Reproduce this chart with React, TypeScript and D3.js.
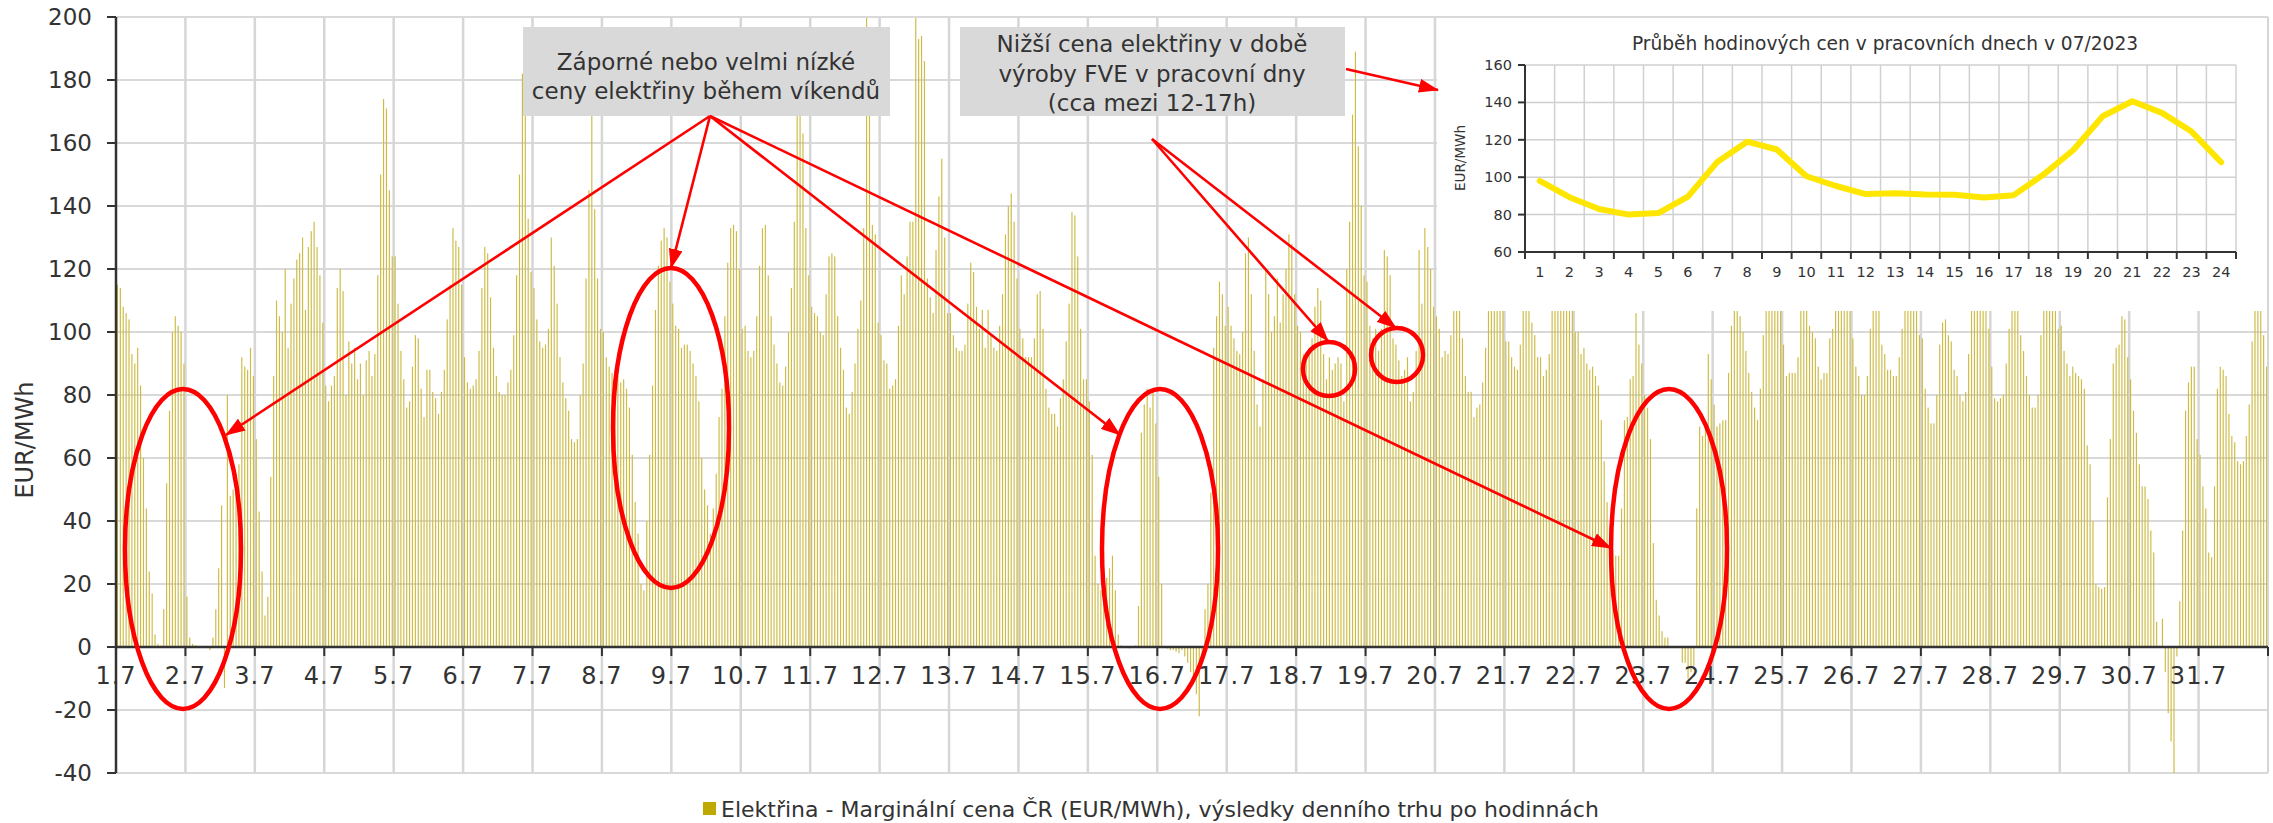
import React from 'react'
import * as d3 from 'd3'

// hourly day-ahead prices, CZ, July 2023 (EUR/MWh), one array per day, hours 1-24
const jul01 = [115, 114, 108, 106, 104, 93, 90, 95, 83, 60, 44, 24, 17, 4, 1, 0.5, 12, 52, 75, 100, 105, 102, 100, 90]
const jul02 = [16, 3, 1, 0.5, 0, 0, 0, 0.4, -1, 3, 12, 25, 45, -13, 80, 48, 50, 55, 58, 92, 89, 88, 95, 86]
const jul03 = [66, 43, 24, 10, 16, 54, 86, 110, 105, 100, 120, 95, 109, 117, 123, 125, 130, 107, 127, 132, 135, 127, 118, 103]
const jul04 = [83, 78, 83, 86, 114, 120, 113, 80, 97, 90, 95, 85, 90, 80, 91, 94, 86, 93, 118, 150, 174, 171, 145, 124]
const jul05 = [124, 109, 94, 85, 76, 78, 89, 99, 98, 82, 73, 88, 88, 81, 79, 74, 81, 88, 104, 115, 133, 129, 127, 115]
const jul06 = [92, 84, 82, 83, 85, 94, 114, 127, 125, 111, 95, 86, 81, 80, 80, 84, 88, 99, 118, 150, 182, 176, 136, 119]
const jul07 = [114, 104, 97, 95, 96, 101, 130, 121, 109, 92, 84, 79, 75, 66, 65, 66, 80, 90, 117, 145, 175, 139, 117, 101]
const jul08 = [100, 92, 89, 87, 88, 86, 84, 85, 82, 76, 61, 46, 36, 20, 18, 40, 61, 83, 107, 121, 129, 133, 130, 116]
const jul09 = [109, 102, 101, 95, 96, 96, 94, 90, 86, 78, 60, 50, 45, 36, 44, 55, 73, 82, 105, 122, 133, 134, 132, 120]
const jul10 = [101, 102, 94, 92, 94, 105, 121, 133, 134, 118, 105, 96, 90, 84, 83, 89, 100, 114, 135, 175, 190, 163, 133, 118]
const jul11 = [108, 106, 105, 100, 99, 112, 124, 125, 124, 105, 95, 88, 76, 74, 81, 90, 101, 110, 133, 205, 196, 134, 131, 103]
const jul12 = [99, 91, 90, 82, 83, 85, 102, 118, 112, 124, 135, 135, 205, 193, 194, 186, 117, 111, 106, 126, 143, 155, 130, 106]
const jul13 = [106, 99, 95, 94, 94, 96, 109, 122, 119, 108, 101, 107, 95, 107, 99, 95, 94, 102, 112, 131, 140, 144, 135, 117]
const jul14 = [101, 98, 92, 92, 92, 98, 112, 113, 101, 82, 76, 74, 74, 70, 79, 85, 97, 109, 138, 137, 124, 101, 85, 85]
const jul15 = [78, 61, 29, 20, 18, 14, 22, 25, 29, 18, 4, 0.5, 0, 0, -0.5, 0, 0.5, 13, 68, 77, 82, 76, 81, 71]
const jul16 = [54, 20, 0.3, -0.5, -1, -1, -1.5, -2, -1, -3, -5, -8, -9, -15, -22, -3, 12, 20, 49, 95, 105, 116, 112, 102]
const jul17 = [108, 102, 98, 94, 93, 100, 125, 130, 112, 94, 77, 70, 85, 120, 112, 100, 105, 117, 103, 112, 120, 131, 128, 112]
const jul18 = [102, 100, 93, 92, 95, 98, 108, 114, 110, 93, 85, 92, 88, 90, 92, 90, 78, 120, 135, 169, 189, 159, 140, 118]
const jul19 = [116, 102, 98, 101, 94, 101, 126, 124, 118, 98, 96, 91, 86, 88, 92, 78, 81, 94, 126, 109, 133, 127, 120, 108]
const jul20 = [105, 101, 92, 94, 93, 99, 118, 125, 112, 98, 86, 81, 81, 73, 76, 77, 84, 95, 115, 135, 145, 138, 125, 112]
const jul21 = [97, 97, 92, 89, 88, 96, 112, 120, 112, 103, 99, 92, 92, 86, 88, 93, 110, 118, 128, 140, 150, 145, 132, 118]
const jul22 = [100, 100, 93, 95, 90, 88, 89, 86, 83, 72, 59, 46, 34, 31, 29, 29, 44, 72, 73, 85, 86, 106, 96, 90]
const jul23 = [80, 76, 66, 33, 15, 10, 5, 3, 3, 0.3, 0, 0, 0, -5, -5, -10, -8, -6, 44, 70, 67, 71, 93, 85]
const jul24 = [77, 70, 71, 72, 72, 87, 102, 112, 110, 105, 100, 94, 87, 81, 76, 72, 82, 99, 115, 125, 135, 138, 128, 118]
const jul25 = [96, 86, 87, 87, 87, 92, 112, 118, 113, 102, 100, 98, 89, 85, 87, 87, 98, 101, 112, 128, 140, 136, 124, 108]
const jul26 = [98, 89, 86, 80, 80, 86, 101, 112, 116, 110, 96, 93, 88, 88, 86, 86, 92, 101, 114, 126, 136, 130, 115, 99]
const jul27 = [98, 82, 76, 71, 71, 80, 96, 103, 104, 99, 97, 88, 86, 80, 78, 81, 93, 112, 122, 135, 142, 133, 118, 101]
const jul28 = [89, 79, 78, 79, 80, 90, 101, 110, 115, 108, 99, 94, 86, 80, 76, 76, 80, 99, 118, 132, 145, 138, 122, 101]
const jul29 = [102, 94, 90, 86, 89, 87, 86, 85, 82, 64, 58, 40, 20, 19, 18.5, 19, 47.5, 66, 90, 95, 96, 105, 104, 92]
const jul30 = [85, 75, 68, 58, 51, 51, 47, 37, 30, 8, 0.5, 9, -8, -21, -30, -41, -3, 14.5, 37, 75, 84, 89, 89, 66]
const jul31 = [61, 51, 44, 30, 28.5, 51, 82, 89, 88, 86, 74, 67, 65, 59, 58, 59, 67, 77, 97, 115, 125, 120, 99, 89]

const dayPrices = [jul01, jul02, jul03, jul04, jul05, jul06, jul07, jul08, jul09, jul10, jul11, jul12, jul13, jul14, jul15, jul16,
  jul17, jul18, jul19, jul20, jul21, jul22, jul23, jul24, jul25, jul26, jul27, jul28, jul29, jul30, jul31]

const dayLabels = ['1.7', '2.7', '3.7', '4.7', '5.7', '6.7', '7.7', '8.7', '9.7', '10.7', '11.7', '12.7', '13.7', '14.7', '15.7', '16.7',
  '17.7', '18.7', '19.7', '20.7', '21.7', '22.7', '23.7', '24.7', '25.7', '26.7', '27.7', '28.7', '29.7', '30.7', '31.7']

// inset: average workday profile
const insetHours = ['1', '2', '3', '4', '5', '6', '7', '8', '9', '10', '11', '12', '13', '14', '15', '16', '17', '18', '19', '20', '21', '22', '23', '24']
const workdayProfile = [98, 89.3, 83, 80, 80.8, 89.6, 108.3, 119, 114.8, 100.5, 95.3, 91, 91.4, 90.7, 90.6, 89.1, 90.4, 101.4, 114.4, 132.6, 140.6, 134.4, 124.4, 108]

const FONT = 'DejaVu Sans, Verdana, sans-serif'
const TEXT = '#333333'
const RED = '#ff0000'
const prices = dayPrices.flat()

const Box = ({ x, y, w, h, lines, cx, ys }) => (
  <g>
    <rect x={x} y={y} width={w} height={h} fill="#d9d9d9" />
    {lines.map((l, i) => (
      <text key={i} x={cx} y={ys[i]} textAnchor="middle" fontSize={23} fill={TEXT} fontFamily={FONT}>{l}</text>
    ))}
  </g>
)

const Arrow = ({ from, to }) => (
  <line x1={from[0]} y1={from[1]} x2={to[0]} y2={to[1]} stroke={RED} strokeWidth={2.6} markerEnd="url(#head)" />
)

const Inset = () => {
  const ix = d3.scaleBand().domain(insetHours).range([1525, 2236])
  const iy = d3.scaleLinear().domain([60, 160]).range([252, 65])
  const line = d3.line<number>()
    .x((d, i) => ix(insetHours[i]) + ix.bandwidth() / 2)
    .y(d => iy(d))
  const bounds = insetHours.map(h => ix(h)).concat([2236])

  return (
    <g fontFamily={FONT}>
      <rect x={1437} y={17} width={2268 - 1437} height={311 - 17} fill="#fff" />
      <text x={1885} y={50} textAnchor="middle" fontSize={18.6} fill={TEXT}>Průběh hodinových cen v pracovních dnech v 07/2023</text>
      {iy.ticks(5).map(t => (
        <g key={t}>
          <line x1={1525} x2={2236} y1={iy(t)} y2={iy(t)} stroke="#d0d0d0" strokeWidth={1.5} />
          <line x1={1518} x2={1525} y1={iy(t)} y2={iy(t)} stroke={TEXT} strokeWidth={2} />
          <text x={1512} y={iy(t)} dy="0.35em" textAnchor="end" fontSize={14.5} fill={TEXT}>{t}</text>
        </g>
      ))}
      {bounds.map((b, i) => (
        <g key={i}>
          {i > 0 && <line x1={b} x2={b} y1={65} y2={252} stroke="#d0d0d0" strokeWidth={1.5} />}
          <line x1={b} x2={b} y1={252} y2={259} stroke={TEXT} strokeWidth={2} />
        </g>
      ))}
      {insetHours.map(h => (
        <text key={h} x={ix(h) + ix.bandwidth() / 2} y={277} textAnchor="middle" fontSize={14.5} fill={TEXT}>{h}</text>
      ))}
      <line x1={1525} x2={1525} y1={65} y2={252} stroke={TEXT} strokeWidth={2} />
      <line x1={1525} x2={2236} y1={252} y2={252} stroke={TEXT} strokeWidth={2} />
      <text transform="translate(1465,158) rotate(-90)" textAnchor="middle" fontSize={13.5} fill={TEXT}>EUR/MWh</text>
      <path d={line(workdayProfile)} fill="none" stroke="#ffe600" strokeWidth={6} strokeLinejoin="round" strokeLinecap="round" />
    </g>
  )
}

export default function App() {
  const left = 116, right = 2268, top = 17, bottom = 773
  const x = d3.scaleBand<number>().domain(d3.range(prices.length)).range([left, right]).paddingInner(0.6).paddingOuter(0.3)
  const xDay = d3.scaleBand().domain(dayLabels).range([left, right])
  const y = d3.scaleLinear().domain([-40, 200]).range([bottom, top])
  const yTicks = y.ticks(12)
  const y0 = y(0)

  return (
    <svg width={2273} height={823} style={{ position: 'absolute', left: 0, top: 0, display: 'block', background: '#fff' }}>
      <defs>
        <clipPath id="plot"><rect x={left} y={top} width={right - left} height={bottom - top} /></clipPath>
        <marker id="head" markerUnits="userSpaceOnUse" markerWidth={20} markerHeight={14} refX={19} refY={7} orient="auto">
          <path d="M0,0 L20,7 L0,14 z" fill={RED} />
        </marker>
      </defs>

      {/* grid */}
      {yTicks.map(t => (
        <line key={t} x1={left} x2={right} y1={y(t)} y2={y(t)} stroke="#d9d9d9" strokeWidth={1.8} />
      ))}
      {dayLabels.slice(1).map(d => (
        <line key={d} x1={xDay(d)} x2={xDay(d)} y1={top} y2={bottom} stroke="#d6d6d6" strokeWidth={2.5} />
      ))}
      <line x1={right} x2={right} y1={top} y2={bottom} stroke="#d6d6d6" strokeWidth={2} />

      {/* bars */}
      <g clipPath="url(#plot)">
        {prices.map((v, i) => (
          <rect key={i} x={x(i)} width={x.bandwidth()} y={Math.min(y(v), y0)} height={Math.abs(y(v) - y0)} fill="#cdbb45" />
        ))}
      </g>

      <Inset />
      <line x1={left} x2={right} y1={top} y2={top} stroke="#d9d9d9" strokeWidth={1.8} />
      <line x1={right} x2={right} y1={top} y2={bottom} stroke="#d6d6d6" strokeWidth={2} />

      {/* axes */}
      <g fontFamily={FONT} fill={TEXT}>
        <line x1={left} x2={left} y1={top} y2={bottom} stroke={TEXT} strokeWidth={2.5} />
        {yTicks.map(t => (
          <g key={t}>
            <line x1={left - 9} x2={left} y1={y(t)} y2={y(t)} stroke={TEXT} strokeWidth={2} />
            <text x={92} y={y(t)} dy="0.36em" textAnchor="end" fontSize={23}>{t}</text>
          </g>
        ))}
        <line x1={left} x2={right} y1={y0} y2={y0} stroke={TEXT} strokeWidth={2.5} />
        {dayLabels.map(d => (
          <g key={d}>
            <line x1={xDay(d)} x2={xDay(d)} y1={y0} y2={y0 + 9} stroke={TEXT} strokeWidth={2} />
            <text x={xDay(d)} y={y0 + 37} textAnchor="middle" fontSize={24} letterSpacing={1}>{d}</text>
          </g>
        ))}
        <line x1={right} x2={right} y1={y0} y2={y0 + 9} stroke={TEXT} strokeWidth={2} />
        <text transform="translate(33,440) rotate(-90)" textAnchor="middle" fontSize={24}>EUR/MWh</text>
        <rect x={703} y={802} width={13} height={13} fill="#bfa800" />
        <text x={721} y={817} fontSize={22}>Elektřina - Marginální cena ČR (EUR/MWh), výsledky denního trhu po hodinnách</text>
      </g>

      {/* annotations */}
      <Box x={523} y={27} w={367} h={89} cx={706} ys={[70, 99]}
        lines={['Záporné nebo velmi nízké', 'ceny elektřiny během víkendů']} />
      <Box x={960} y={27} w={385} h={89} cx={1152} ys={[52, 82, 111]}
        lines={['Nižší cena elektřiny v době', 'výroby FVE v pracovní dny', '(cca mezi 12-17h)']} />

      <g fill="none" stroke={RED} strokeWidth={4.5}>
        <ellipse cx={183} cy={549} rx={58} ry={160} />
        <ellipse cx={671} cy={428} rx={58} ry={160} />
        <ellipse cx={1160} cy={549} rx={58} ry={160} />
        <ellipse cx={1669} cy={549} rx={58} ry={160} />
        <ellipse cx={1329} cy={369} rx={26} ry={27} />
        <ellipse cx={1397} cy={355} rx={26} ry={27} />
      </g>
      <Arrow from={[710, 116]} to={[226, 435]} />
      <Arrow from={[710, 116]} to={[671, 268]} />
      <Arrow from={[710, 116]} to={[1120, 435]} />
      <Arrow from={[710, 116]} to={[1611, 548]} />
      <Arrow from={[1152, 139]} to={[1328, 341]} />
      <Arrow from={[1152, 139]} to={[1396, 328]} />
      <Arrow from={[1346, 69]} to={[1438, 90]} />
    </svg>
  )
}
